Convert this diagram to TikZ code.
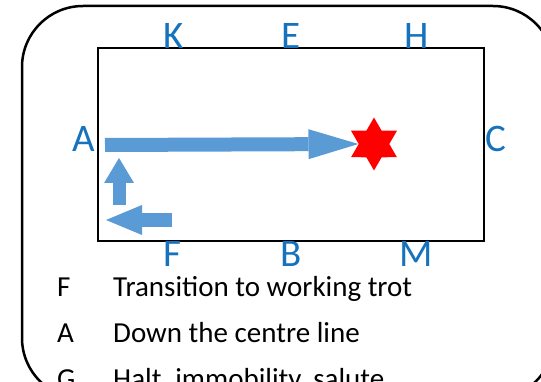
\documentclass[tikz,border=0pt]{standalone}
\usepackage{fontspec}
\setmainfont{Carlito}
\usetikzlibrary{arrows.meta,shapes.geometric}
\definecolor{letterblue}{RGB}{22,114,188}
\definecolor{moveblue}{RGB}{91,155,213}
\tikzset{
  marker/.style={text=letterblue, font=\fontsize{39}{39}\selectfont, inner sep=0pt, anchor=base},
  steptext/.style={font=\fontsize{29}{29}\selectfont, inner sep=0pt, anchor=base west},
  move/.style={draw=moveblue, line width=14pt, -{Triangle[length=#1, width=30pt, line width=0pt]}}
}
\begin{document}
\begin{tikzpicture}[x=1pt, y=-1pt]
\path[use as bounding box] (0,0) rectangle (541,382);
\clip (0,0) rectangle (541,382);

% outer frame and arena
\draw[line width=2.5pt, rounded corners=61pt] (22,6) rectangle (554,399);
\draw[line width=2pt] (98,48) rectangle (484,241);

% letters round the arena
\node[marker] (K) at (174,48.5) {K};
\node[marker] (E) at (291,48.5) {E};
\node[marker] (H) at (417,48.5) {H};
\node[marker] (A) at (83.5,152) {A};
\node[marker] (C) at (496,152) {C};
\node[marker] (F) at (172,266) {F};
\node[marker] (B) at (291,266) {B};
\node[marker] (M) at (416,266) {M};

% halt point
\node[star, star points=6, star point ratio=1.732, minimum size=53pt, inner sep=0pt, fill=red] (halt) at (374,144) {};

% the moves
\coordinate (startF) at (172,220);
\coordinate (cornerA) at (106,220);
\coordinate (upstart) at (119,205);
\coordinate (uptip) at (119,158);
\coordinate (lineA) at (105,145);
\draw[move=36pt] (startF) -- (cornerA);
\draw[move=25pt, line width=13pt] (upstart) -- (uptip);
\draw[move=50pt] (lineA) -- (halt.west);

% test steps
\node[steptext] (s1) at (57,296) {F};
\node[steptext] (t1) at (113,296) {Transition to working trot};
\node[steptext] (s2) at (57,342) {A};
\node[steptext] (t2) at (113,342) {Down the centre line};
\node[steptext] (s3) at (57,388) {G};
\node[steptext] (t3) at (113,388) {Halt, immobility, salute};
\end{tikzpicture}
\end{document}
